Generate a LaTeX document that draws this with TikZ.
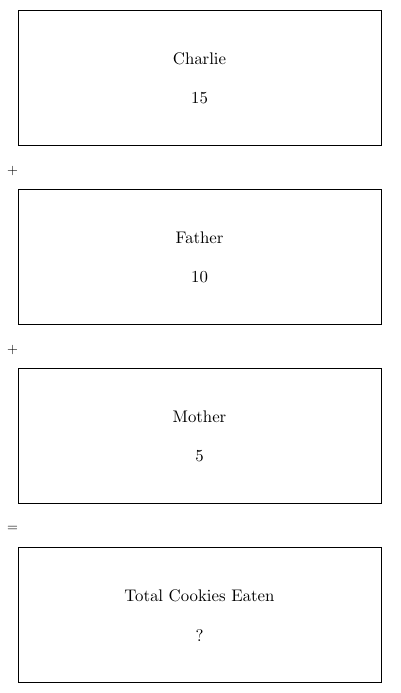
\documentclass[tikz,border=0pt]{standalone}
\font\lblfont=cmr10 at 16.8pt
\font\opfont=cmr10 at 14pt
\begin{document}
\begin{tikzpicture}[x=1pt,y=-1pt,
  panel/.style={draw,line width=0.8pt},
  lbl/.style={font=\lblfont, inner sep=0pt},
  op/.style={font=\opfont, inner sep=0pt}]
\useasboundingbox (0,0) rectangle (400,693);
\foreach \i/\top/\name/\val in {1/10/Charlie/15, 2/189/Father/10, 3/368/Mother/5, 4/547/Total Cookies Eaten/?}{
  \draw[panel] (18,\top) rectangle (381,\top+135);
  \node[lbl] (n\i) at (199.5,\top+48.5) {\name};
  \node[lbl] (v\i) at (199.5,\top+88.5) {\val};
}
\node[op] (p1) at (12.5,170.5) {+};
\node[op] (p2) at (12.5,349.5) {+};
\node[op] (eq) at (12.5,528.5) {=};
\end{tikzpicture}
\end{document}
